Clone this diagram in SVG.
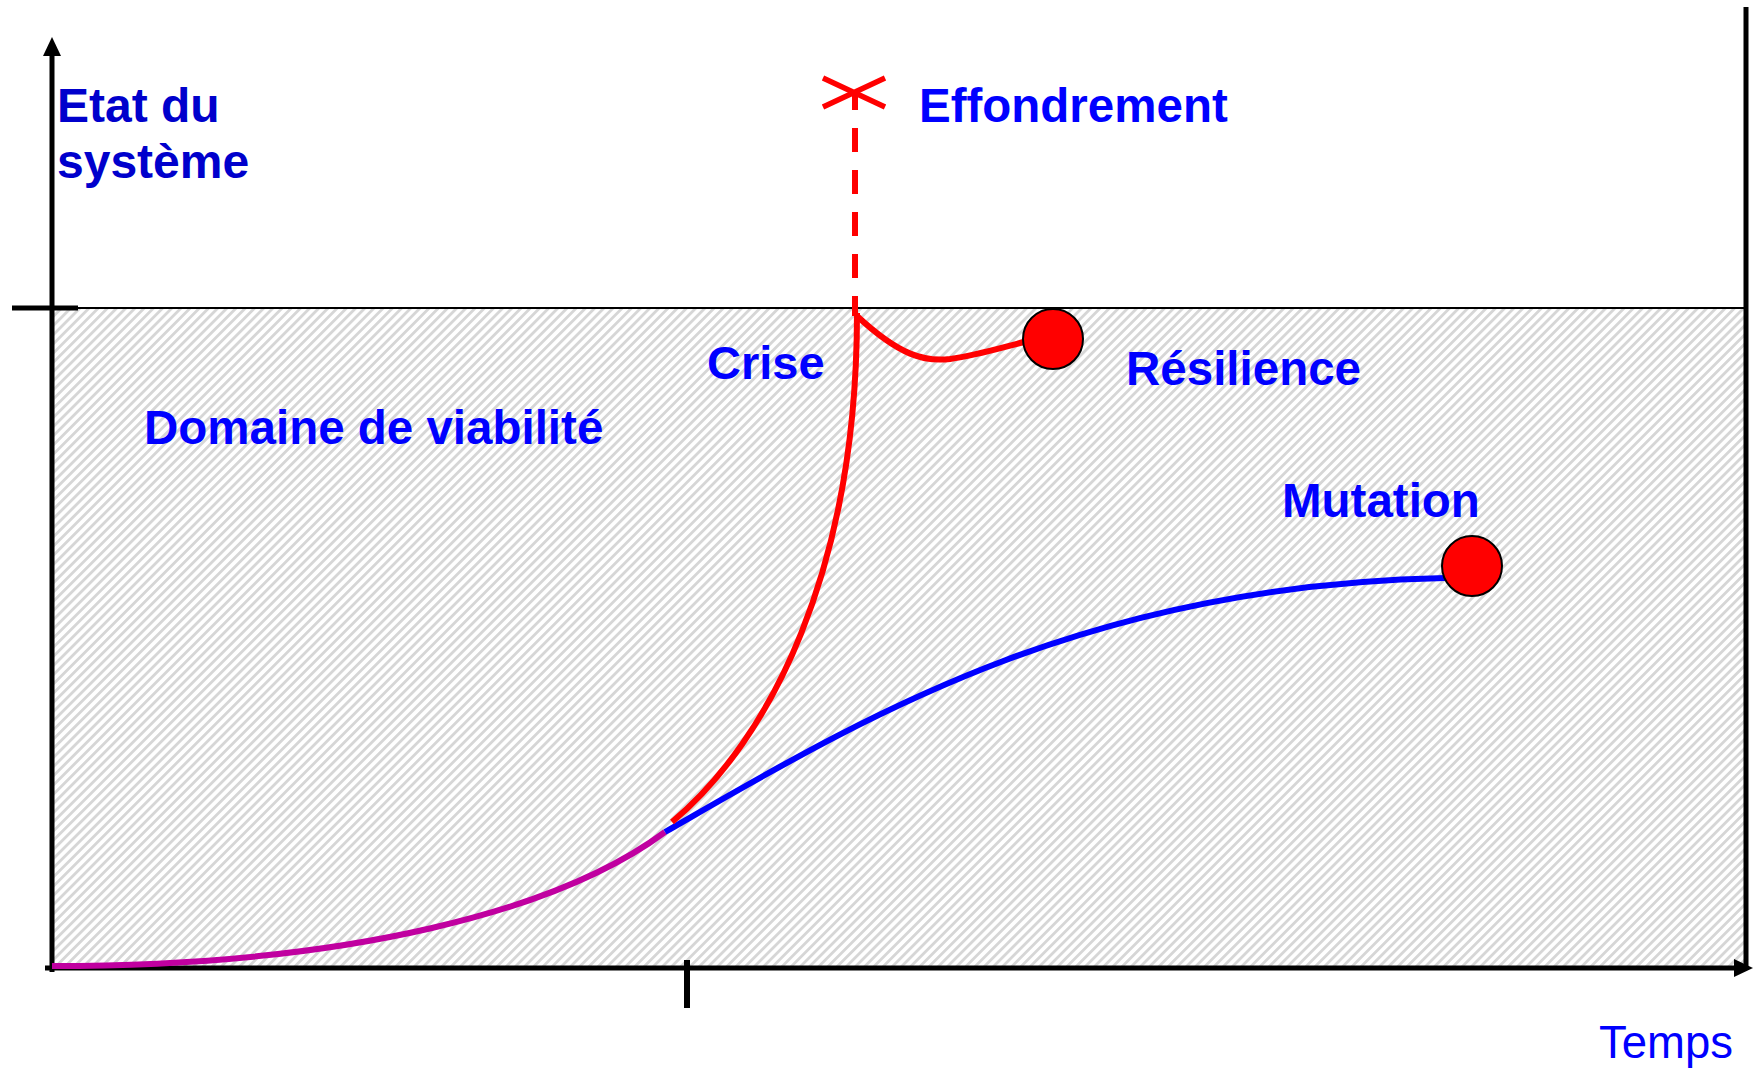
<svg xmlns="http://www.w3.org/2000/svg" width="1754" height="1070" viewBox="0 0 1754 1070">
<defs>
<pattern id="hatch" patternUnits="userSpaceOnUse" width="6.5" height="6.5" patternTransform="rotate(45)">
<rect x="0" y="0" width="6.5" height="6.5" fill="#ffffff"/>
<rect x="0" y="0" width="2.8" height="6.5" fill="#d6d6d6"/>
</pattern>
<style>
.lbl{font-family:"Liberation Sans",Arial,sans-serif;font-weight:bold;font-size:47.5px;fill:#0000ff}
.ax{stroke:#000;stroke-width:5;fill:none}
.red{stroke:#ff0000;stroke-width:6;fill:none}
.dot{fill:#ff0000;stroke:#000;stroke-width:2}
</style>
</defs>
<rect width="1754" height="1070" fill="#ffffff"/>
<g id="domaine">
<rect x="52" y="308" width="1694" height="660" fill="url(#hatch)"/>
<line x1="52" y1="308" x2="1746" y2="308" stroke="#000" stroke-width="2"/>
<text class="lbl" x="144" y="444">Domaine de viabilité</text>
</g>
<g id="axes">
<line class="ax" x1="52" y1="972" x2="52" y2="52"/>
<path d="M43,56 L52,37 L61,56 z" fill="#000"/>
<line class="ax" x1="45" y1="968" x2="1738" y2="968"/>
<path d="M1734,959 L1753,968 L1734,977 z" fill="#000"/>
<line class="ax" x1="1746" y1="7" x2="1746" y2="970"/>
<line class="ax" x1="12" y1="308" x2="78" y2="308"/>
<line x1="687" y1="960" x2="687" y2="1008" stroke="#000" stroke-width="6"/>
</g>
<g id="etat">
<text class="lbl" x="57" y="122" style="fill:#0000cc;font-size:48px">Etat du</text>
<text class="lbl" x="57" y="178" style="fill:#0000cc;font-size:48px">système</text>
</g>
<g id="temps">
<text x="1599" y="1058" style="font-family:'Liberation Sans',Arial,sans-serif;font-size:45.5px;fill:#0000ff">Temps</text>
</g>
<g id="connectors">
<path d="M52,966 C350,966 560,910 665,832" stroke="#c000a0" stroke-width="6" fill="none"/>
<path d="M665,832 C860,720 1080,585 1445,578" stroke="#0000ff" stroke-width="6" fill="none"/>
<path class="red" d="M672,822 C770,740 857,570 857,313"/>
<path class="red" d="M857,316 C900,356 925,362 950,359 C978,355 1000,348 1024,342"/>
<line x1="855" y1="92" x2="855" y2="316" stroke="#ff0000" stroke-width="6" stroke-dasharray="18 18 24 18 24 18 24 18 24 18 24 18"/>
</g>
<g id="effondrement">
<path d="M823,78 L885,107 M823,107 L885,78" stroke="#ff0000" stroke-width="5.5" fill="none"/>
<text class="lbl" x="919" y="122">Effondrement</text>
</g>
<g id="crise">
<text class="lbl" x="707" y="379" style="font-size:47px">Crise</text>
</g>
<g id="resilience">
<circle class="dot" cx="1053" cy="339" r="30"/>
<text class="lbl" x="1126" y="385">Résilience</text>
</g>
<g id="mutation">
<circle class="dot" cx="1472" cy="566" r="30"/>
<text class="lbl" x="1282" y="517">Mutation</text>
</g>
</svg>
